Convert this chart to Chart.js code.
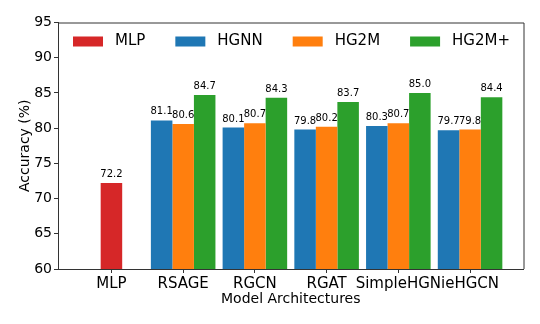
<!DOCTYPE html>
<html>
<head>
<meta charset="utf-8">
<script src="https://cdn.jsdelivr.net/npm/chart.js@4/dist/chart.umd.min.js"></script>
<style>body { margin: 0; background: #fff; }</style>
</head>
<body>
<canvas id="chart" width="540" height="324"></canvas>
<script>
const categories = ['MLP', 'RSAGE', 'RGCN', 'RGAT', 'SimpleHGN', 'ieHGCN'];
const mlp      = [72.2, null, null, null, null, null];
const hgnn     = [null, 81.1, 80.1, 79.8, 80.3, 79.7];
const hg2m     = [null, 80.6, 80.7, 80.2, 80.7, 79.8];
const hg2mPlus = [null, 84.7, 84.3, 83.7, 85.0, 84.4];
const yTicks   = [60, 65, 70, 75, 80, 85, 90, 95];

const FONT = '"DejaVu Sans", sans-serif';
const toPoints = vals => vals.map((v, i) => ({ x: i, y: v }));

// legend drawn inside the plot area, like matplotlib's upper legend
const insideLegend = {
    id: 'insideLegend',
    afterDraw(chart) {
        const ctx = chart.ctx;
        const area = chart.chartArea;
        ctx.save();
        ctx.font = '15px ' + FONT;
        ctx.textBaseline = 'middle';
        let x = area.left + 15;
        const y = area.top + 19;
        chart.data.datasets.forEach(ds => {
            ctx.fillStyle = ds.backgroundColor;
            ctx.fillRect(x, y - 5, 30, 10);
            ctx.fillStyle = '#000';
            ctx.fillText(ds.label, x + 42, y);
            x += 42 + ctx.measureText(ds.label).width + 30;
        });
        ctx.restore();
    }
};

// value on top of every bar + top/right spines
const barLabels = {
    id: 'barLabels',
    afterDatasetsDraw(chart) {
        const ctx = chart.ctx;
        ctx.save();
        ctx.font = '10px ' + FONT;
        ctx.fillStyle = '#000';
        ctx.textAlign = 'center';
        ctx.textBaseline = 'bottom';
        chart.data.datasets.forEach((ds, di) => {
            const meta = chart.getDatasetMeta(di);
            meta.data.forEach((bar, i) => {
                const v = ds.data[i].y;
                if (v === null) return;
                ctx.fillText(v.toFixed(1), bar.x, bar.y - 3.5);
            });
        });
        const a = chart.chartArea;
        ctx.strokeStyle = '#333';
        ctx.lineWidth = 1;
        ctx.beginPath();
        ctx.moveTo(a.left, a.top + 0.5);
        ctx.lineTo(a.right + 0.5, a.top + 0.5);
        ctx.lineTo(a.right + 0.5, a.bottom);
        ctx.stroke();
        ctx.restore();
    }
};

new Chart(document.getElementById('chart'), {
    type: 'bar',
    data: {
        datasets: [
            { label: 'MLP', data: toPoints(mlp), backgroundColor: '#d62728', stack: 'b', order: 2 },
            { label: 'HGNN', data: toPoints(hgnn), backgroundColor: '#1f77b4', stack: 'a', order: 1 },
            { label: 'HG2M', data: toPoints(hg2m), backgroundColor: '#ff7f0e', stack: 'b', order: 2 },
            { label: 'HG2M+', data: toPoints(hg2mPlus), backgroundColor: '#2ca02c', stack: 'c', order: 3 }
        ]
    },
    options: {
        responsive: false,
        animation: false,
        devicePixelRatio: 1,
        categoryPercentage: 0.9,
        barPercentage: 1.0,
        layout: { padding: { left: 0, right: 16.5, top: 22.5, bottom: 0 } },
        plugins: { legend: { display: false }, tooltip: { enabled: false } },
        scales: {
            x: {
                type: 'linear',
                offset: false,
                min: -0.745,
                max: 5.745,
                afterBuildTicks: scale => { scale.ticks = categories.map((c, i) => ({ value: i })); },
                afterFit: scale => { scale.height = 55; },
                grid: { offset: false, drawOnChartArea: false, drawTicks: true, tickLength: 4, color: '#333' },
                border: { color: '#333' },
                ticks: {
                    autoSkip: false, maxRotation: 0, padding: 2, color: '#000',
                    font: { family: FONT, size: 15 },
                    callback: v => categories[v]
                },
                title: {
                    display: true, text: 'Model Architectures', color: '#000',
                    font: { family: FONT, size: 14 },
                    padding: { top: 0, bottom: 16.5 }
                }
            },
            y: {
                stacked: false,
                min: 60,
                max: 95,
                afterBuildTicks: scale => { scale.ticks = yTicks.map(v => ({ value: v })); },
                afterFit: scale => { scale.width = 58; },
                grid: { drawOnChartArea: false, drawTicks: true, tickLength: 4, color: '#333' },
                border: { color: '#333' },
                ticks: { padding: 2, color: '#000', font: { family: FONT, size: 14 } },
                title: {
                    display: true, text: 'Accuracy (%)', color: '#000',
                    font: { family: FONT, size: 14 },
                    padding: { top: 16.6, bottom: 0 }
                }
            }
        }
    },
    plugins: [insideLegend, barLabels]
});
</script>
</body>
</html>
